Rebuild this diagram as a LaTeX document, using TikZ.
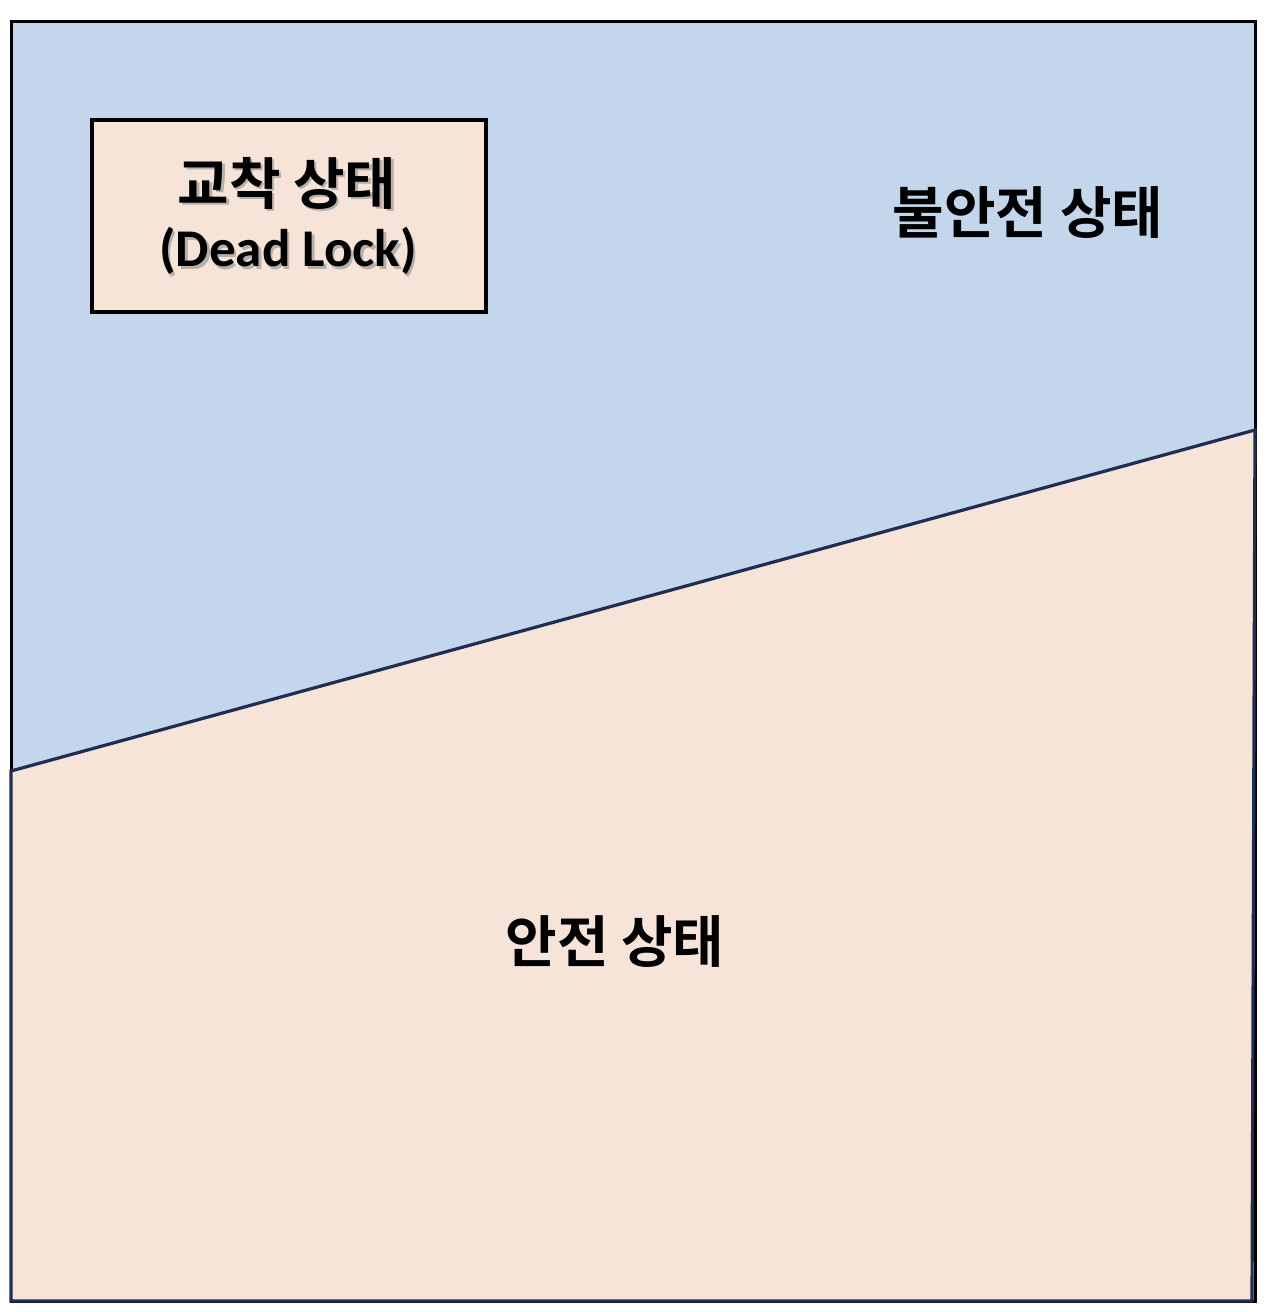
\documentclass[tikz,border=0pt]{standalone}
\usepackage{fontspec}
\newfontfamily\kr{Noto Sans CJK KR}[BoldFont={Noto Sans CJK KR Bold}]
\newfontfamily\lat{Carlito}
\definecolor{skyfill}{RGB}{195,214,235}
\definecolor{peachfill}{RGB}{246,228,216}
\definecolor{navyline}{RGB}{31,45,82}
\tikzset{
  label kr/.style={font=\kr\bfseries\fontsize{56}{64}\selectfont, inner sep=0pt},
  label lat/.style={font=\lat\bfseries\fontsize{53}{60}\selectfont, inner sep=0pt},
  shadowtxt/.style={text=black!45, opacity=0.6},
}
\begin{document}
\begin{tikzpicture}[x=1pt,y=-1pt]
\useasboundingbox (0,0) rectangle (1270,1312);
\fill[white] (0,0) rectangle (1270,1312);
% unsafe region (whole square)
\draw[fill=skyfill, draw=black, line width=3pt] (11,21) rectangle (1255,1301);
% safe region
\coordinate (sl) at (11,771);
\coordinate (sr) at (1255,430);
\coordinate (br) at (1252,1301);
\coordinate (bl) at (11,1301);
\draw[fill=peachfill, draw=navyline, line width=3.2pt, line join=miter] (sl) -- (sr) -- (br) -- (bl) -- cycle;
% deadlock box
\draw[fill=peachfill, draw=black, line width=3.2pt] (92,120) rectangle (486,312);
% shadows
\node[label kr, shadowtxt] at (289.5,185.5) {교착 상태};
\node[label lat, shadowtxt] at (290.5,253.5) {(Dead Lock)};
% texts
\node[label kr] (dl) at (287,183) {교착 상태};
\node[label lat] (dleng) at (288,251) {(Dead Lock)};
\node[label kr] (unsafe) at (1028,213) {불안전 상태};
\node[label kr] (safe) at (615,942) {안전 상태};
\end{tikzpicture}
\end{document}
